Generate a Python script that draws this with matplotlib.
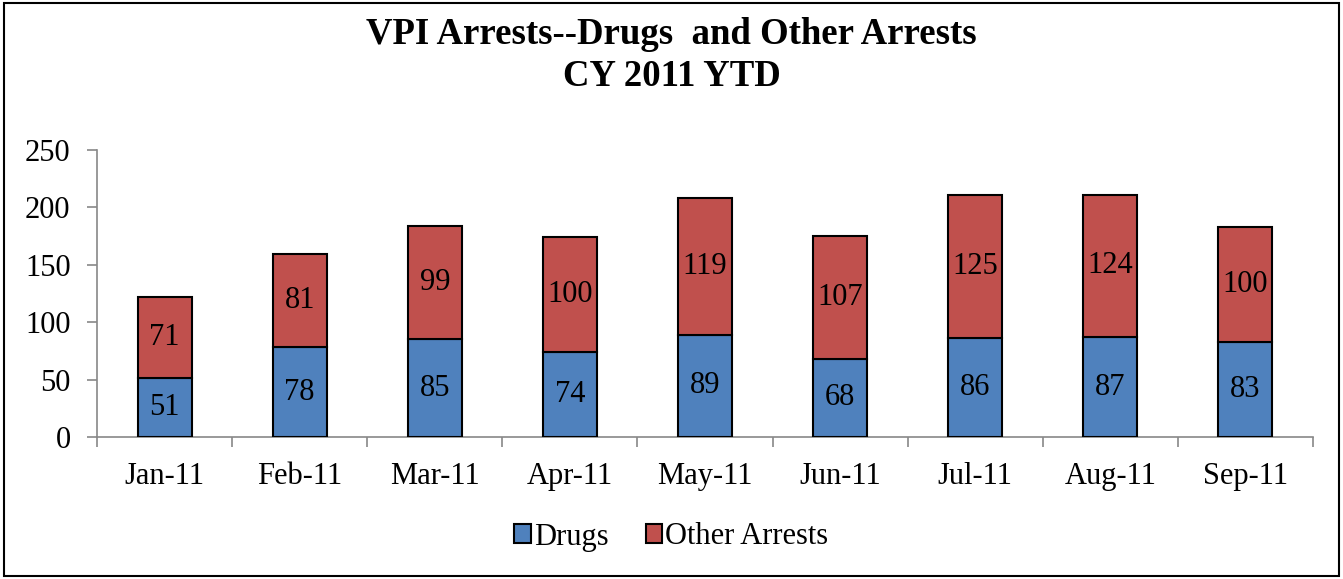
import matplotlib
matplotlib.use("Agg")
import matplotlib.pyplot as plt
import numpy as np
from matplotlib.patches import Rectangle

months = ["Jan-11", "Feb-11", "Mar-11", "Apr-11", "May-11", "Jun-11", "Jul-11", "Aug-11", "Sep-11"]
drugs = [51, 78, 85, 74, 89, 68, 86, 87, 83]
other = [71, 81, 99, 100, 119, 107, 125, 124, 100]
yticks = [0, 50, 100, 150, 200, 250]

plt.rcParams['font.family'] = ['Liberation Serif', 'DejaVu Serif']

fig = plt.figure(figsize=(13.43, 5.79), dpi=100)
ax = fig.add_axes([97/1343, 1-437/579, (1313-97)/1343, (437-150)/579])

x = np.arange(len(months))
blue = "#4F81BD"
red = "#C0504D"
w = 0.4
b1 = ax.bar(x, drugs, width=w, color=blue, edgecolor="black", linewidth=1.5, label="Drugs", zorder=3)
b2 = ax.bar(x, other, width=w, bottom=drugs, color=red, edgecolor="black", linewidth=1.5, label="Other Arrests", zorder=3)

for i in range(len(months)):
    ax.text(x[i], drugs[i]/2, str(drugs[i]), ha="center", va="center", fontsize=22, zorder=4)
    ax.text(x[i], drugs[i] + other[i]/2, str(other[i]), ha="center", va="center", fontsize=22, zorder=4)

ax.set_xlim(-0.5, len(months)-0.5)
ax.set_ylim(0, 250)
ax.set_yticks(yticks)
ax.set_yticklabels([str(v) for v in yticks], fontsize=22)
ax.set_xticks(x)
ax.set_xticklabels(months, fontsize=22)
ax.tick_params(axis="x", length=0, pad=18)
ax.set_xticks(np.arange(-0.5, len(months)), minor=True)
ax.tick_params(axis="x", which="minor", length=7, color="#888888", width=1.2)
ax.tick_params(axis="y", length=7, color="#888888", width=1.2, pad=12)
for s in ["top", "right"]:
    ax.spines[s].set_visible(False)
for s in ["left", "bottom"]:
    ax.spines[s].set_color("#888888")
    ax.spines[s].set_linewidth(1.2)

fig.text(0.5, 1-35/579, "VPI Arrests--Drugs  and Other Arrests", ha="center", va="center",
         fontsize=26.5, fontweight="bold")
fig.text(0.5, 1-77/579, "CY 2011 YTD", ha="center", va="center", fontsize=26.5, fontweight="bold")

leg = fig.legend(handles=[b1, b2], labels=["Drugs", "Other Arrests"], loc="center",
                 bbox_to_anchor=(0.5, 1-537/579), ncol=2, frameon=False, fontsize=22,
                 handlelength=0.55, handleheight=0.55, handletextpad=0.1, columnspacing=1.2)

fig.patches.append(Rectangle((4/1343, 3/579), 1335/1343, 573/579, transform=fig.transFigure,
                             fill=False, edgecolor="black", linewidth=1.5))

fig.savefig("out.png", dpi=100)
